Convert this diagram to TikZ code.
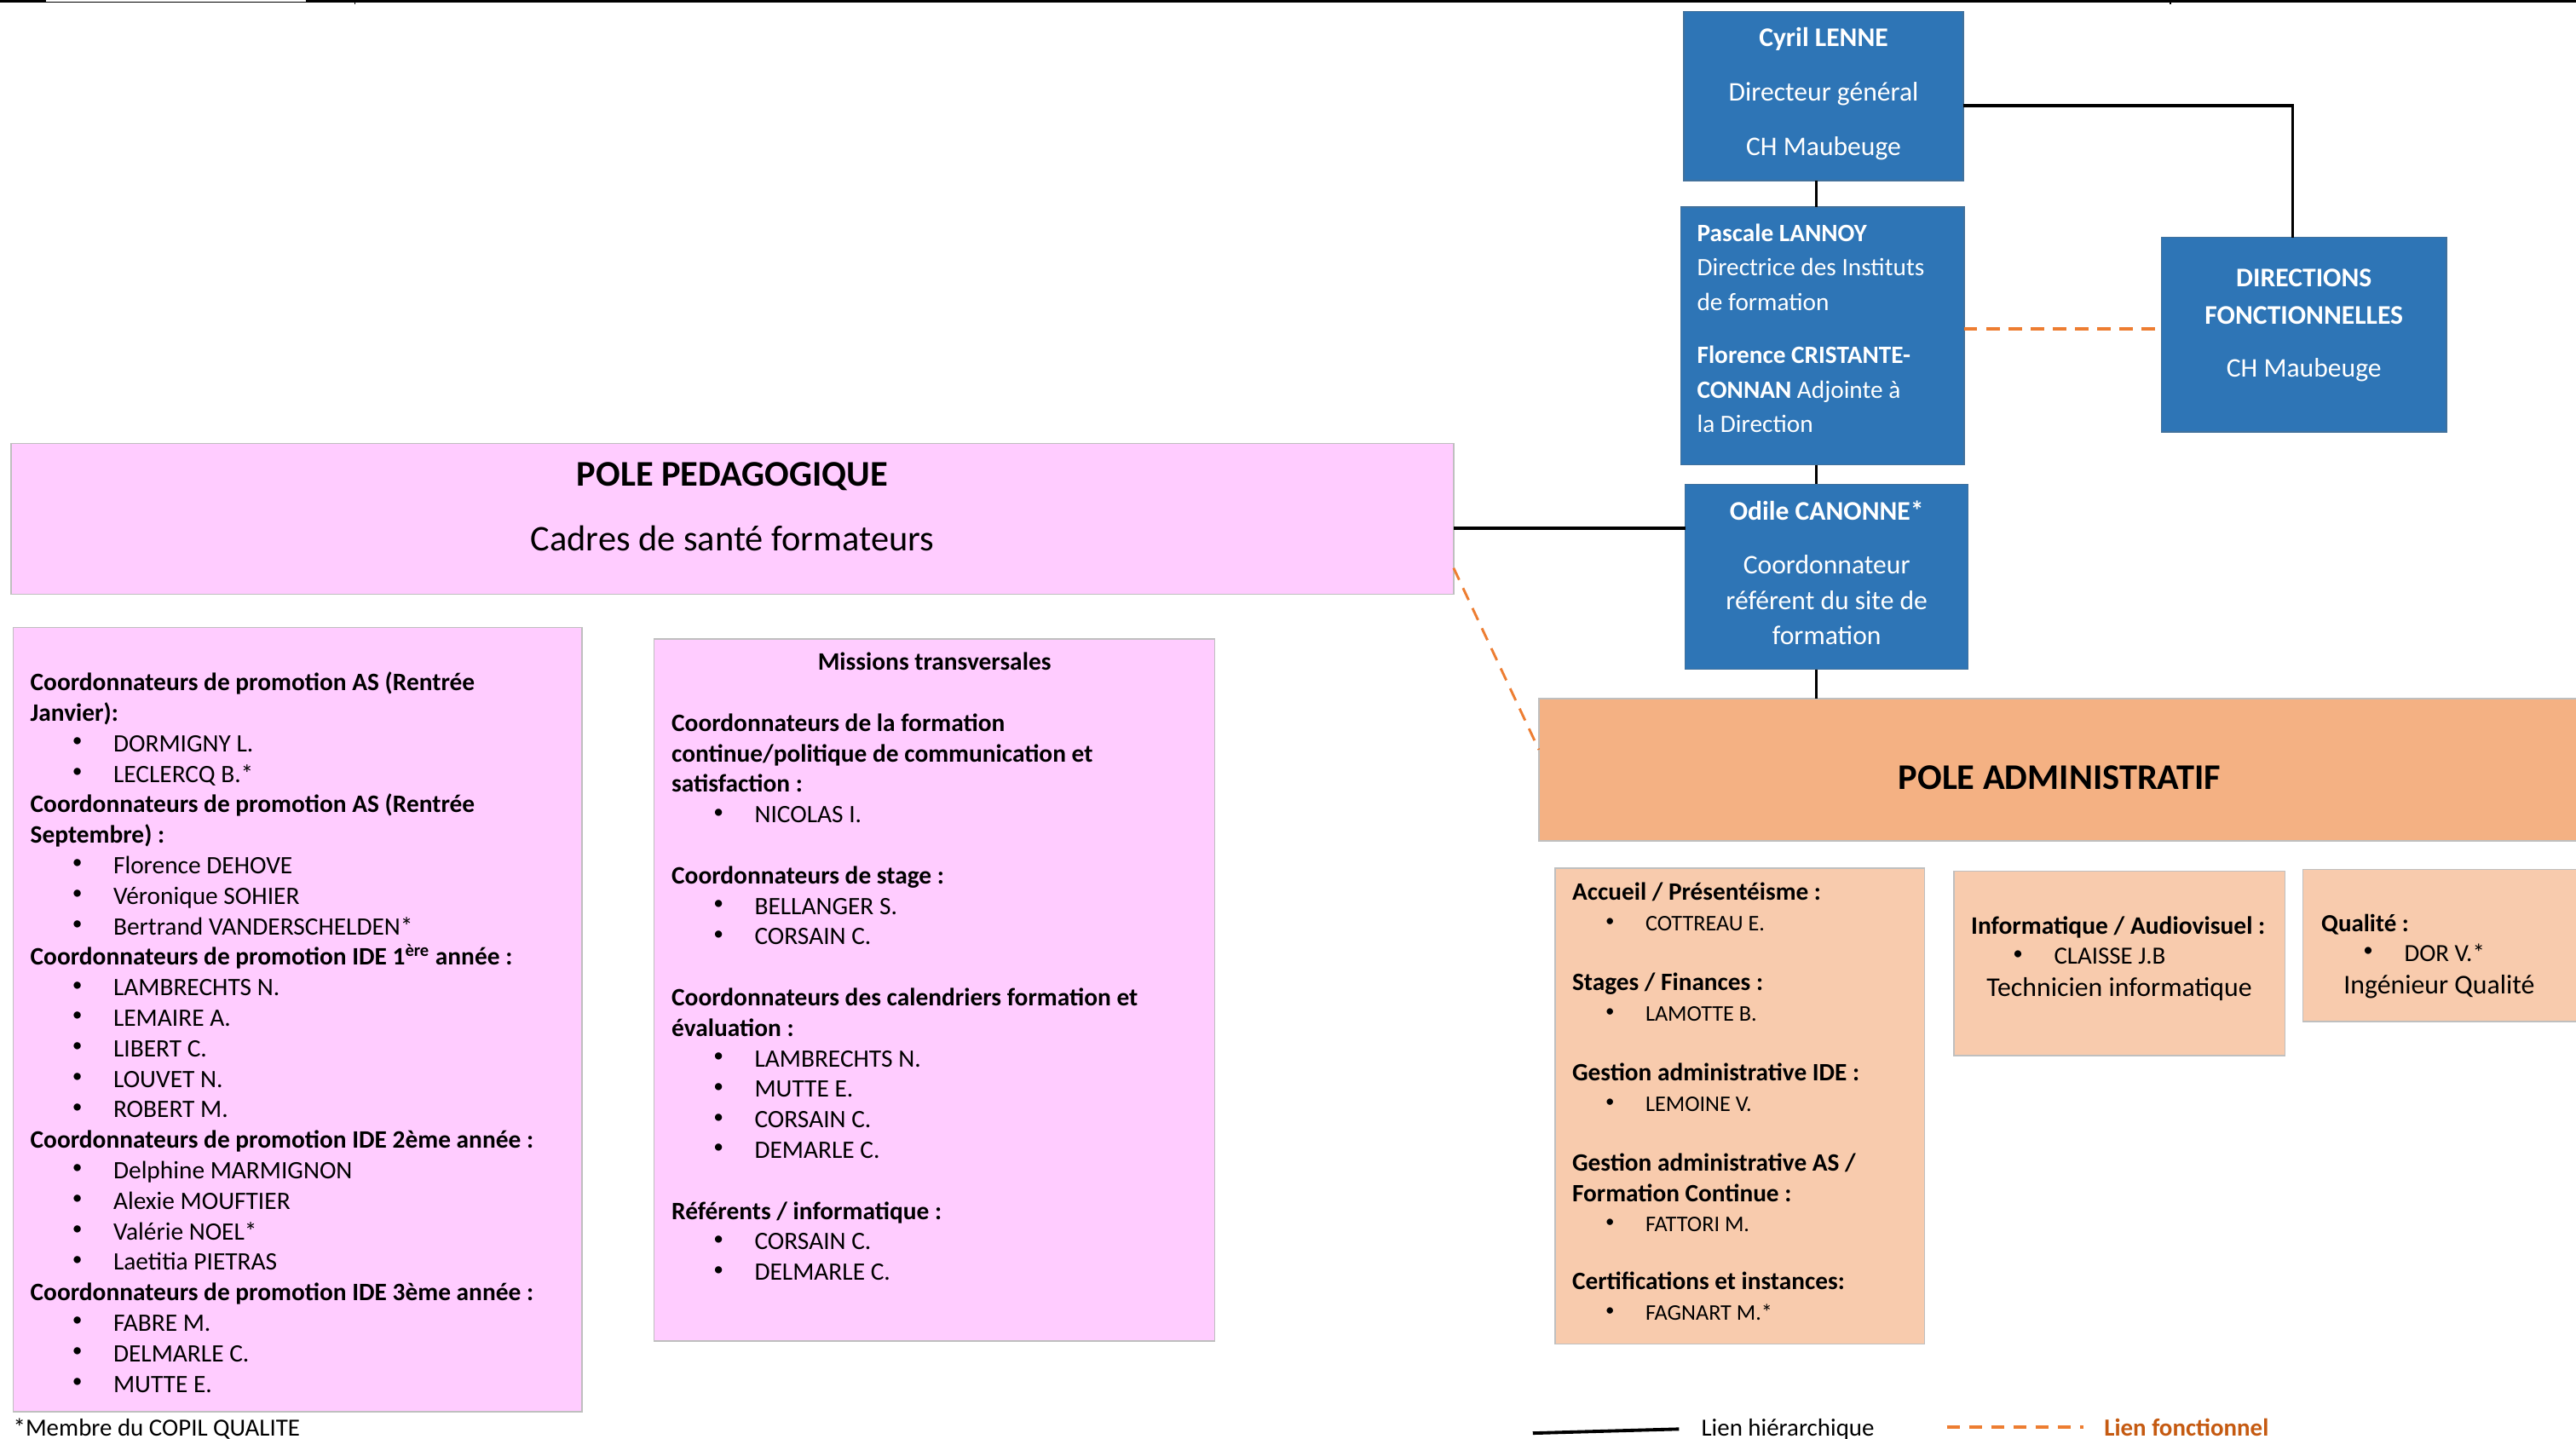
\documentclass[tikz,border=0pt]{standalone}
\usepackage{fontspec}
\setmainfont{Carlito}
\usetikzlibrary{calc}
\definecolor{blueb}{HTML}{2E75B6}
\definecolor{blueline}{HTML}{41719C}
\definecolor{pinkb}{HTML}{FFCCFF}
\definecolor{orangeA}{HTML}{F4B183}
\definecolor{orangeS}{HTML}{F8CBAD}
\definecolor{dashor}{HTML}{ED7D31}
\definecolor{legor}{HTML}{C55A11}
\definecolor{grayb}{HTML}{BFBFBF}
\newcommand\smbul{\raisebox{0.4ex}{\scalebox{0.8}{\textbullet}}}
\newcommand\bul[1]{\makebox[50.5pt][l]{\hspace*{25.5pt}\smbul}#1}
\newcommand\bulb[1]{\makebox[44.6pt][l]{\hspace*{20.3pt}\smbul}#1}
\newcommand\fs[2]{\fontsize{#1}{#2}\selectfont}
\begin{document}
\begin{tikzpicture}[x=1pt,y=-1pt,
  box/.style={inner sep=0pt,outer sep=0pt,anchor=north west,line width=0.8pt},
  bluebox/.style={box,fill=blueb,draw=blueline},
  pinkbox/.style={box,fill=pinkb,draw=grayb},
  admbox/.style={box,fill=orangeA,draw=grayb},
  subbox/.style={box,fill=orangeS,draw=grayb},
  txt/.style={inner sep=0pt,outer sep=0pt,anchor=base west},
  ctxt/.style={inner sep=0pt,outer sep=0pt,anchor=base},
  wtxt/.style={ctxt,text=white},
  hier/.style={draw=black,line width=1.7pt},
  fonc/.style={draw=dashor,line width=2pt,dash pattern=on 8pt off 5.5pt},
]
\useasboundingbox (0,0) rectangle (1568,876);
\fill[white] (0,0) rectangle (1568,876);
% top page rule
\draw[line width=1.5pt] (0,0.75) -- (28,0.75);
\draw[line width=0.7pt] (28,1.2) -- (186,1.2);
\draw[line width=1.5pt] (186,0.75) -- (1568,0.75);
\draw[line width=0.8pt] (216,0) -- (216,2.5);
\draw[line width=0.8pt] (1321,0) -- (1321,2.5);

% ---------- boxes ----------
\node[bluebox,minimum width=170pt,minimum height=103pt] (cyril) at (1025,7) {};
\node[bluebox,minimum width=172.6pt,minimum height=157pt] (pascale) at (1023,126) {};
\node[bluebox,minimum width=173.3pt,minimum height=118.5pt] (dir) at (1315.7,144.5) {};
\node[bluebox,minimum width=172.3pt,minimum height=112.7pt] (odile) at (1025.7,294.8) {};
\node[pinkbox,minimum width=878pt,minimum height=91.7pt] (pp) at (6.8,270) {};
\node[pinkbox,minimum width=346.2pt,minimum height=477.5pt] (left) at (8.1,382) {};
\node[pinkbox,minimum width=341.3pt,minimum height=427.4pt] (mid) at (398.2,389) {};
\node[admbox,minimum width=634pt,minimum height=86.5pt] (adm) at (936.7,425.3) {};
\node[subbox,minimum width=224.9pt,minimum height=289.8pt] (acc) at (946.6,528.5) {};
\node[subbox,minimum width=201.5pt,minimum height=112.2pt] (info) at (1189.3,530.4) {};
\node[subbox,minimum width=168.3pt,minimum height=92.6pt] (qual) at (1401.7,529.4) {};

% ---------- connectors ----------
\coordinate (vx) at (1105.5,0);
\coordinate (c1) at (1395.6,64.3);
\coordinate (h1) at (0,321.6);
\coordinate (h2) at (0,200);
\coordinate (d1) at (0,345.8);
\coordinate (d2) at (0,456.4);
\draw[hier] (cyril.south -| vx) -- (pascale.north -| vx);
\draw[hier] (pascale.south -| vx) -- (odile.north -| vx);
\draw[hier] (odile.south -| vx) -- (adm.north -| vx);
\draw[hier,line width=1.9pt] (cyril.east |- c1) -- (c1) -- (c1 |- dir.north);
\draw[hier,line width=2.3pt] (pp.east |- h1) -- (odile.west |- h1);
\draw[fonc] (pascale.east |- h2) -- (dir.west |- h2);
\draw[fonc,line width=1.5pt] (pp.east |- d1) -- (adm.west |- d2);

% ---------- texts ----------
\node[wtxt,font=\fs{16.4}{33.3}] (cyrilT) at (1110,28.2) {\parbox[t]{200pt}{\centering
\textbf{Cyril LENNE}\\Directeur général\\CH Maubeuge}};
\node[txt,text=white,font=\fs{15.2}{21}] (pascaleT) at (1033,146.9) {\parbox[t]{200pt}{\raggedright
\textbf{Pascale LANNOY}\\Directrice des Instituts\\de formation\\[11.4pt]\textbf{Florence CRISTANTE-}\\\textbf{CONNAN} Adjointe à\\la Direction}};
\node[wtxt,font=\fs{16.4}{22.6}] (dirT) at (1402.4,174.7) {\parbox[t]{200pt}{\centering
\textbf{DIRECTIONS}\\\textbf{FONCTIONNELLES}\\[9.8pt]CH Maubeuge}};
\node[wtxt,font=\fs{16.4}{21.7}] (odileT) at (1111.9,316.4) {\parbox[t]{200pt}{\centering
\textbf{Odile CANONNE*}\\[11.1pt]Coordonnateur\\référent du site de\\formation}};
\node[ctxt,font=\fs{22}{39.4}] (ppT) at (445.8,296) {\parbox[t]{500pt}{\centering
\textbf{POLE PEDAGOGIQUE}\\Cadres de santé formateurs}};
\node[ctxt,font=\bfseries\fs{22}{26}] (admT) at (1253.6,480.6) {POLE ADMINISTRATIF};

\node[txt,font=\fs{15.25}{18.57}] (leftT) at (18.5,420.5) {\parbox[t]{340pt}{\raggedright
\textbf{Coordonnateurs de promotion AS (Rentrée}\\
\textbf{Janvier):}\\
\bul{DORMIGNY L.}\\
\bul{LECLERCQ B.*}\\
\textbf{Coordonnateurs de promotion AS (Rentrée}\\
\textbf{Septembre) :}\\
\bul{Florence DEHOVE}\\
\bul{Véronique SOHIER}\\
\bul{Bertrand VANDERSCHELDEN*}\\
\textbf{Coordonnateurs de promotion IDE 1\textsuperscript{ère} année :}\\
\bul{LAMBRECHTS N.}\\
\bul{LEMAIRE A.}\\
\bul{LIBERT C.}\\
\bul{LOUVET N.}\\
\bul{ROBERT M.}\\
\textbf{Coordonnateurs de promotion IDE 2ème année :}\\
\bul{Delphine MARMIGNON}\\
\bul{Alexie MOUFTIER}\\
\bul{Valérie NOEL*}\\
\bul{Laetitia PIETRAS}\\
\textbf{Coordonnateurs de promotion IDE 3ème année :}\\
\bul{FABRE M.}\\
\bul{DELMARLE C.}\\
\bul{MUTTE E.}}};

\node[txt,font=\fs{15.25}{18.57}] (midT) at (408.8,408) {\parbox[t]{320pt}{\raggedright
\makebox[320pt][c]{\textbf{Missions transversales}}\\[18.57pt]
\textbf{Coordonnateurs de la formation}\\
\textbf{continue/politique de communication et}\\
\textbf{satisfaction :}\\
\bul{NICOLAS I.}\\[18.57pt]
\textbf{Coordonnateurs de stage :}\\
\bul{BELLANGER S.}\\
\bul{CORSAIN C.}\\[18.57pt]
\textbf{Coordonnateurs des calendriers formation et}\\
\textbf{évaluation :}\\
\bul{LAMBRECHTS N.}\\
\bul{MUTTE E.}\\
\bul{CORSAIN C.}\\
\bul{DEMARLE C.}\\[18.57pt]
\textbf{Référents / informatique :}\\
\bul{CORSAIN C.}\\
\bul{DELMARLE C.}}};

\node[txt,font=\fs{15.2}{18.5}] (accT) at (957,548) {\parbox[t]{220pt}{\raggedright
\textbf{Accueil / Présentéisme :}\\
{\fs{13.6}{18.5}\bulb{COTTREAU E.}}\\[18pt]
\textbf{Stages / Finances :}\\
{\fs{13.6}{18.5}\bulb{LAMOTTE B.}}\\[18pt]
\textbf{Gestion administrative IDE :}\\
{\fs{13.6}{18.5}\bulb{LEMOINE V.}}\\[18pt]
\textbf{Gestion administrative AS /}\\
\textbf{Formation Continue :}\\
{\fs{13.6}{18.5}\bulb{FATTORI M.}}\\[16.5pt]
\textbf{Certifications et instances:}\\
{\fs{13.6}{18.5}\bulb{FAGNART M.*}}}};

\node[txt,font=\bfseries\fs{15.3}{18}] (infoH) at (1199.8,568.8) {Informatique / Audiovisuel :};
\node[txt,font=\fs{15}{18}] (infoI) at (1199.8,587) {\bul{CLAISSE J.B}};
\node[ctxt,font=\fs{16.5}{20}] (infoT) at (1290,606.8) {Technicien informatique};
\node[txt,font=\bfseries\fs{15}{18}] (qualH) at (1413,567) {Qualité :};
\node[txt,font=\fs{15}{18}] (qualI) at (1413,585.2) {\bul{DOR V.*}};
\node[ctxt,font=\fs{16.5}{20}] (qualT) at (1484.7,605) {Ingénieur Qualité};

% ---------- legend ----------
\node[txt,font=\fs{15}{18}] (note) at (8.1,874) {*Membre du COPIL QUALITE};
\coordinate (lh1) at (933,872.5);
\coordinate (lh2) at (1022,870);
\draw[line width=2pt] (lh1) -- (lh2);
\node[txt,font=\fs{15}{18}] (lhT) at (1035.6,874) {Lien hiérarchique};
\coordinate (lf1) at (1185,869);
\coordinate (lf2) at (1268,869);
\draw[fonc] (lf1) -- (lf2);
\node[txt,font=\bfseries\fs{15}{18},text=legor] (lfT) at (1280.8,874) {Lien fonctionnel};
\end{tikzpicture}
\end{document}
